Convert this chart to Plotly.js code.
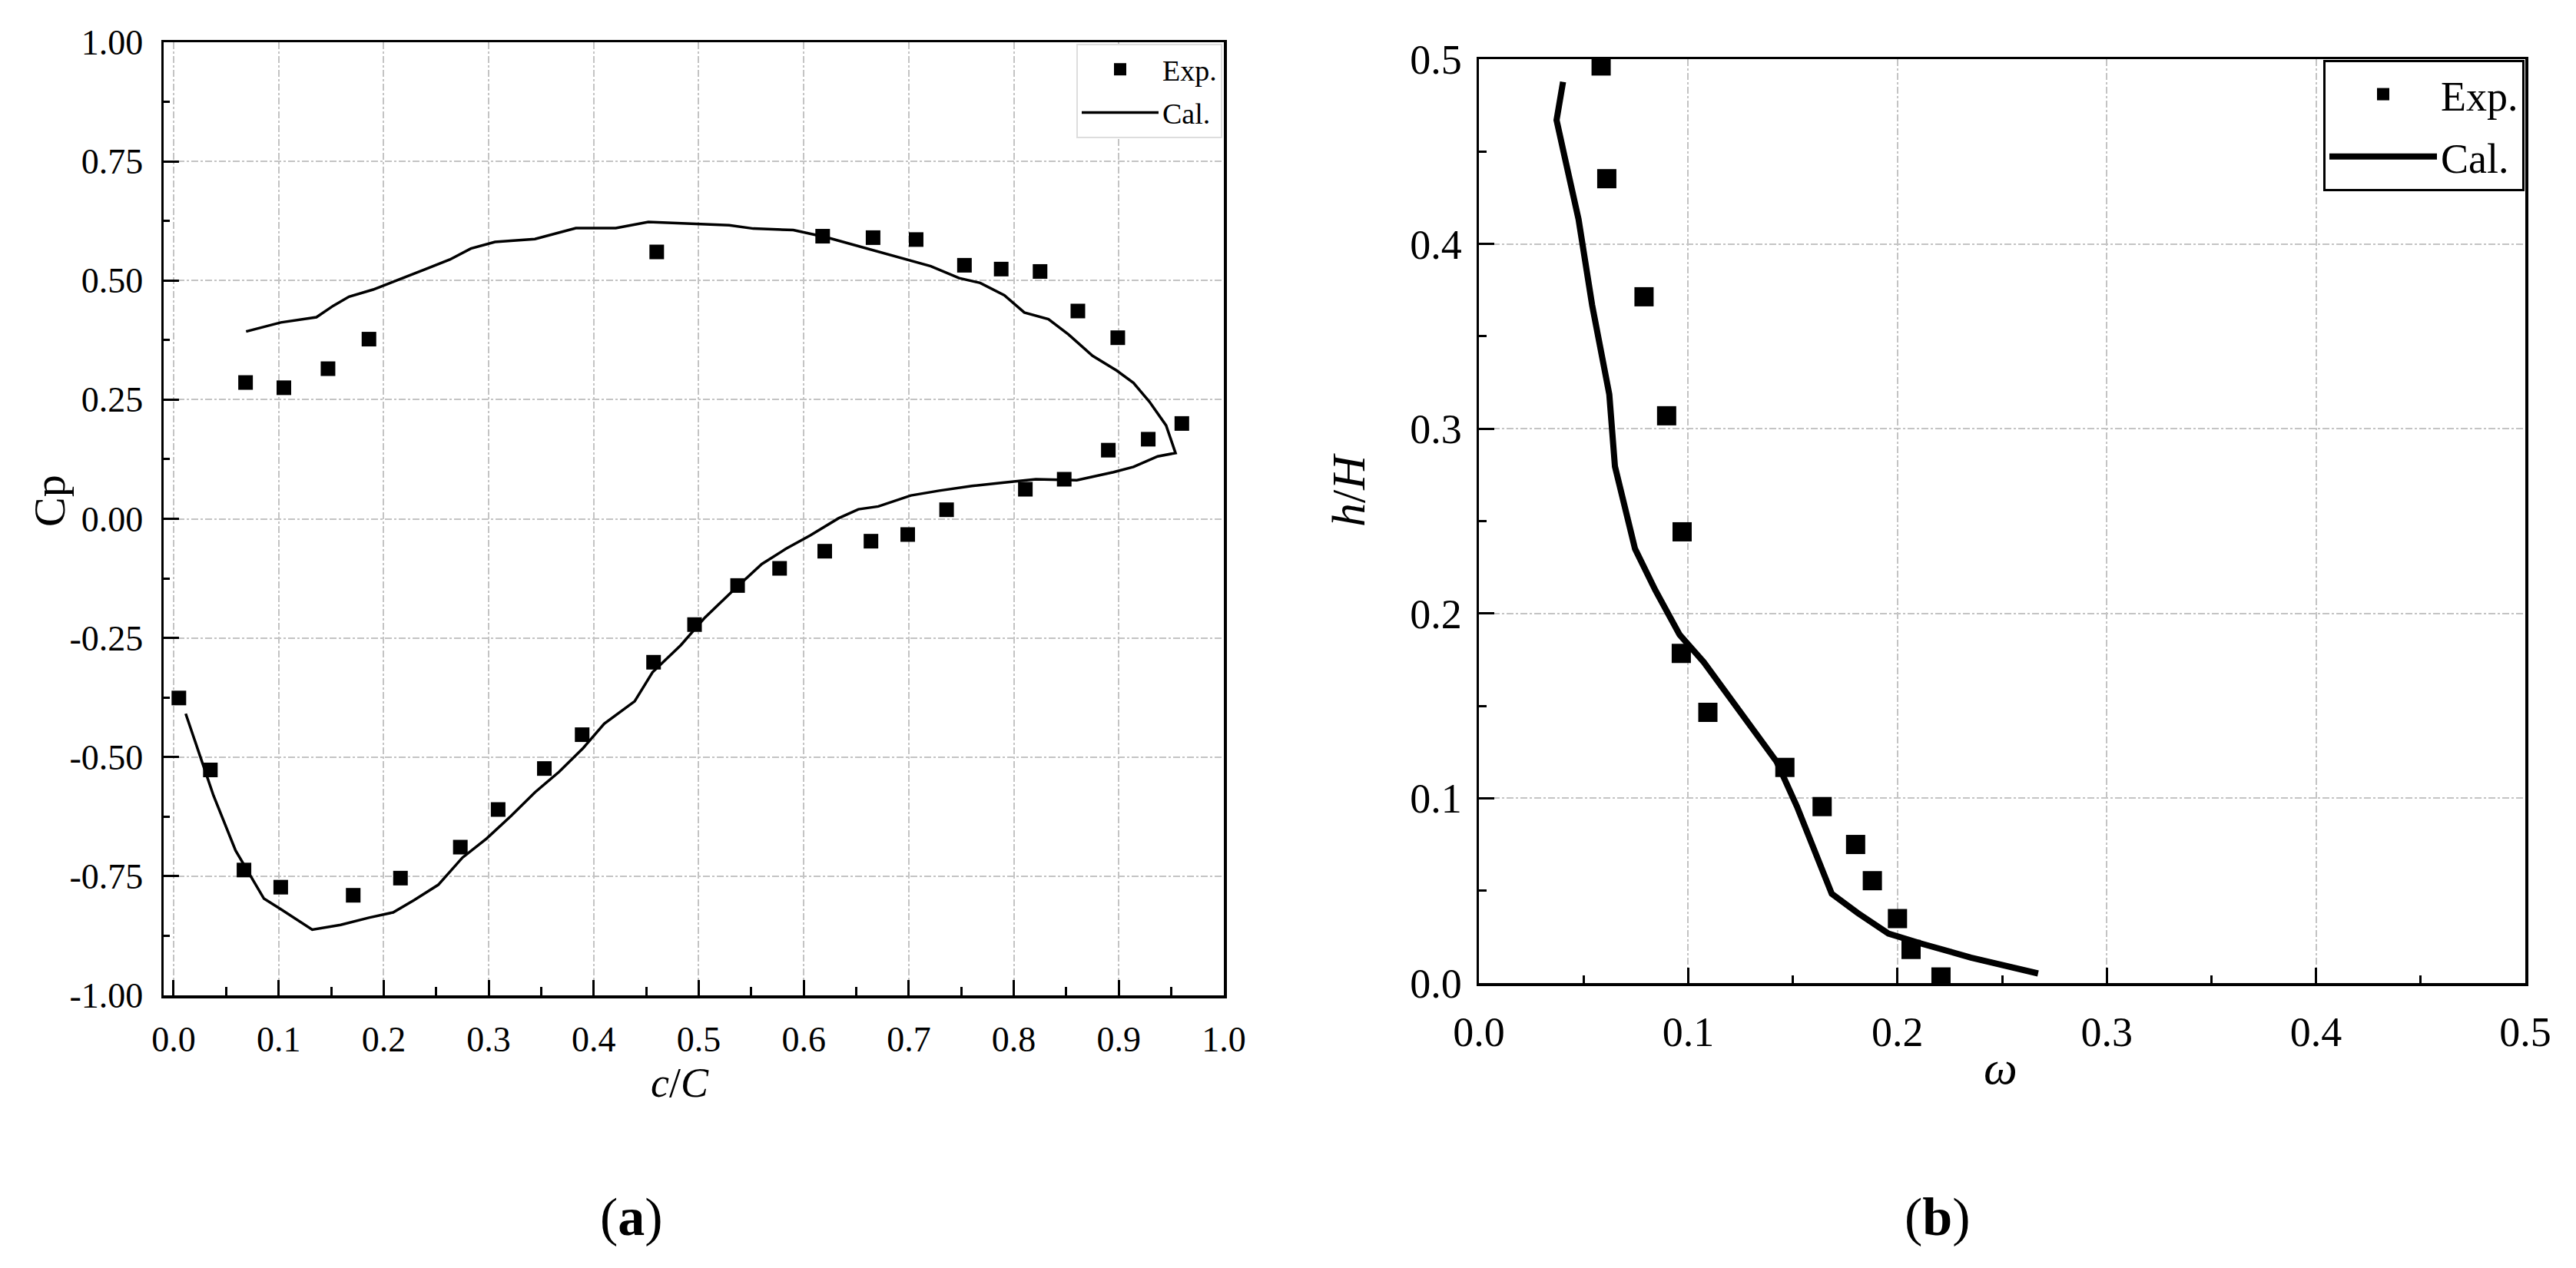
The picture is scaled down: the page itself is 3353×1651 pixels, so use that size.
<!DOCTYPE html>
<html>
<head>
<meta charset="utf-8">
<script src="https://cdn.plot.ly/plotly-3.0.1.min.js"></script>
<style>html,body{margin:0;padding:0;background:#fff;}#chart{width:3353px;height:1651px;}</style>
</head>
<body>
<div id="chart"></div>
<script>
// ---------- Panel (a): pressure coefficient ----------
const expCx = [0.005, 0.035, 0.067, 0.102, 0.171, 0.216, 0.273, 0.309, 0.353, 0.389,
               0.457, 0.496, 0.537, 0.577, 0.620, 0.664, 0.699, 0.736, 0.811, 0.848,
               0.890, 0.928, 0.960, 0.899, 0.861, 0.825, 0.788, 0.753, 0.707, 0.666,
               0.618, 0.460, 0.186, 0.147, 0.105, 0.0685];
const expCp = [-0.376, -0.527, -0.737, -0.773, -0.790, -0.754, -0.689, -0.610, -0.524, -0.453,
               -0.301, -0.222, -0.140, -0.104, -0.068, -0.047, -0.033, 0.019, 0.062, 0.083,
               0.144, 0.167, 0.200, 0.380, 0.436, 0.519, 0.524, 0.532, 0.586, 0.590,
               0.593, 0.560, 0.377, 0.315, 0.275, 0.286];

const calCx = [0.0115, 0.025, 0.038, 0.059, 0.086, 0.102, 0.132, 0.159, 0.186, 0.209,
               0.229, 0.252, 0.275, 0.298, 0.321, 0.344, 0.367, 0.390, 0.410, 0.439,
               0.456, 0.483, 0.506, 0.533, 0.560, 0.583, 0.606, 0.633, 0.652, 0.671,
               0.702, 0.729, 0.760, 0.791, 0.821, 0.860, 0.895, 0.914, 0.937, 0.954,
               0.945, 0.929, 0.914, 0.898, 0.875, 0.852, 0.833, 0.810, 0.791, 0.768,
               0.748, 0.721, 0.698, 0.671, 0.644, 0.621, 0.590, 0.552, 0.529, 0.490,
               0.452, 0.421, 0.383, 0.344, 0.306, 0.283, 0.263, 0.240, 0.213, 0.190,
               0.167, 0.152, 0.136, 0.102, 0.069];
const calCp = [-0.409, -0.495, -0.581, -0.696, -0.797, -0.819, -0.862, -0.852, -0.837, -0.826,
               -0.800, -0.768, -0.711, -0.671, -0.624, -0.574, -0.531, -0.481, -0.430, -0.383,
               -0.322, -0.265, -0.207, -0.150, -0.095, -0.063, -0.035, 0.001, 0.020, 0.026,
               0.049, 0.059, 0.069, 0.076, 0.083, 0.081, 0.098, 0.109, 0.131, 0.138,
               0.196, 0.246, 0.285, 0.311, 0.342, 0.387, 0.419, 0.433, 0.469, 0.495,
               0.505, 0.530, 0.544, 0.560, 0.577, 0.591, 0.606, 0.609, 0.616, 0.619,
               0.623, 0.610, 0.610, 0.587, 0.581, 0.567, 0.544, 0.524, 0.501, 0.481,
               0.466, 0.447, 0.423, 0.412, 0.393];

const xTicksA = [0, 0.1, 0.2, 0.3, 0.4, 0.5, 0.6, 0.7, 0.8, 0.9, 1.0];
const xLabelsA = ["0.0", "0.1", "0.2", "0.3", "0.4", "0.5", "0.6", "0.7", "0.8", "0.9", "1.0"];
const yTicksA = [-1, -0.75, -0.5, -0.25, 0, 0.25, 0.5, 0.75, 1];
const yLabelsA = ["-1.00", "-0.75", "-0.50", "-0.25", "0.00", "0.25", "0.50", "0.75", "1.00"];

// ---------- Panel (b): h/H vs omega ----------
const expOmega = [0.0584, 0.0611, 0.0789, 0.0897, 0.0971, 0.0967, 0.1094, 0.1462, 0.164, 0.180,
                  0.188, 0.200, 0.2065, 0.2208];
const expH = [0.4963, 0.4353, 0.3714, 0.307, 0.2442, 0.1784, 0.1465, 0.1167, 0.0955, 0.075,
              0.0554, 0.0349, 0.0182, 0.0033];

const calOmega = [0.0402, 0.039, 0.0371, 0.041, 0.0476, 0.0541, 0.0592, 0.0623, 0.065, 0.0696,
                  0.0746, 0.0843, 0.0959, 0.1075, 0.119, 0.1307, 0.1423, 0.152, 0.1616, 0.1686,
                  0.181, 0.1957, 0.2119, 0.2351, 0.2672];
const calH = [0.4877, 0.480, 0.467, 0.447, 0.4134, 0.3669, 0.339, 0.3186, 0.2796, 0.2572,
              0.235, 0.2126, 0.1885, 0.1736, 0.156, 0.1383, 0.1197, 0.0955, 0.0677, 0.0483,
              0.0379, 0.0268, 0.0212, 0.0138, 0.0052];

const xTicksB = [0, 0.1, 0.2, 0.3, 0.4, 0.5];
const xLabelsB = ["0.0", "0.1", "0.2", "0.3", "0.4", "0.5"];
const yTicksB = [0, 0.1, 0.2, 0.3, 0.4, 0.5];
const yLabelsB = ["0.0", "0.1", "0.2", "0.3", "0.4", "0.5"];

const seriesNames = ["Exp.", "Cal."];

// ---------- Build ----------
const FONT = "Liberation Serif, Times New Roman, serif";
const W = 3353, H = 1651;
const px = v => v / W;
const py = v => 1 - v / H;

const traces = [
  {x: expCx, y: expCp, xaxis: 'x', yaxis: 'y', type: 'scatter', mode: 'markers', name: seriesNames[0],
   marker: {symbol: 'square', size: 19, color: '#000'}, legend: 'legend', legendgroup: 'a1'},
  {x: calCx, y: calCp, xaxis: 'x', yaxis: 'y', type: 'scatter', mode: 'lines', name: seriesNames[1],
   line: {color: '#000', width: 3.5}, legend: 'legend', legendgroup: 'a2'},
  {x: expOmega, y: expH, xaxis: 'x2', yaxis: 'y2', type: 'scatter', mode: 'markers', name: seriesNames[0],
   marker: {symbol: 'square', size: 25, color: '#000'}, legend: 'legend2', legendgroup: 'b1'},
  {x: calOmega, y: calH, xaxis: 'x2', yaxis: 'y2', type: 'scatter', mode: 'lines', name: seriesNames[1],
   line: {color: '#000', width: 8}, legend: 'legend2', legendgroup: 'b2'}
];

function axisBase(opts) {
  return Object.assign({
    showline: true, linecolor: '#000', linewidth: 3.5, mirror: true,
    ticks: 'inside', ticklen: 20, tickwidth: 3, tickcolor: '#000',
    showgrid: true, gridcolor: '#c4c4c4', gridwidth: 2, griddash: 'dashdot',
    zeroline: false, tickmode: 'array',
    tickfont: {family: FONT, size: 46, color: '#000'}
  }, opts);
}

function label(text, x, y, size, angle) {
  return {text: text, xref: 'paper', yref: 'paper', x: px(x), y: py(y), xanchor: 'center', yanchor: 'middle',
          showarrow: false, textangle: angle || 0, font: {family: FONT, size: size, color: '#000'}};
}

const layout = {
  width: W, height: H,
  margin: {l: 0, r: 0, t: 0, b: 0},
  paper_bgcolor: '#fff', plot_bgcolor: '#fff',
  font: {family: FONT, color: '#000'},
  showlegend: true,
  xaxis: axisBase({
    domain: [px(213), px(1593)], anchor: 'y', range: [-0.0095, 1.0],
    tickvals: xTicksA, ticktext: xLabelsA, ticklabelstandoff: 14,
    minor: {ticks: 'inside', ticklen: 11, tickwidth: 3, tickcolor: '#000', tickmode: 'linear', tick0: 0, dtick: 0.05, showgrid: false}
  }),
  yaxis: axisBase({
    domain: [py(1296), py(55)], anchor: 'x', range: [-1, 1],
    tickvals: yTicksA, ticktext: yLabelsA, ticklabelstandoff: 14,
    minor: {ticks: 'inside', ticklen: 8, tickwidth: 3, tickcolor: '#000', tickmode: 'linear', tick0: 0, dtick: 0.125, showgrid: false}
  }),
  xaxis2: axisBase({
    domain: [px(1925), px(3287)], anchor: 'y2', range: [0, 0.5],
    tickvals: xTicksB, ticktext: xLabelsB, ticklabelstandoff: 14,
    tickfont: {family: FONT, size: 54, color: '#000'},
    minor: {ticks: 'inside', ticklen: 10, tickwidth: 3, tickcolor: '#000', tickmode: 'linear', tick0: 0, dtick: 0.05, showgrid: false}
  }),
  yaxis2: axisBase({
    domain: [py(1280), py(77)], anchor: 'x2', range: [0, 0.5],
    tickvals: yTicksB, ticktext: yLabelsB, ticklabelstandoff: 8,
    tickfont: {family: FONT, size: 54, color: '#000'},
    minor: {ticks: 'inside', ticklen: 10, tickwidth: 3, tickcolor: '#000', tickmode: 'linear', tick0: 0, dtick: 0.05, showgrid: false}
  }),
  legend: {
    x: px(1591), xanchor: 'right', y: py(57), yanchor: 'top',
    bgcolor: '#fff', bordercolor: '#dddddd', borderwidth: 2,
    font: {family: FONT, size: 38, color: '#000'}, tracegroupgap: 4, itemwidth: 100
  },
  legend2: {
    x: px(3286), xanchor: 'right', y: py(78), yanchor: 'top',
    bgcolor: '#fff', bordercolor: '#000', borderwidth: 3,
    font: {family: FONT, size: 54, color: '#000'}, tracegroupgap: 8, itemwidth: 140
  },
  annotations: [
    label('Cp', 64, 652, 58, -90),
    label('<i>c</i>/<i>C</i>', 885, 1410, 54),
    label('<i>h</i>/<i>H</i>', 1755, 638, 62, -90),
    label('<i>ω</i>', 2604, 1390, 62),
    label('(<b>a</b>)', 822, 1584, 70),
    label('(<b>b</b>)', 2522, 1584, 70)
  ]
};

Plotly.newPlot('chart', traces, layout, {staticPlot: true, displayModeBar: false});
</script>
</body>
</html>
